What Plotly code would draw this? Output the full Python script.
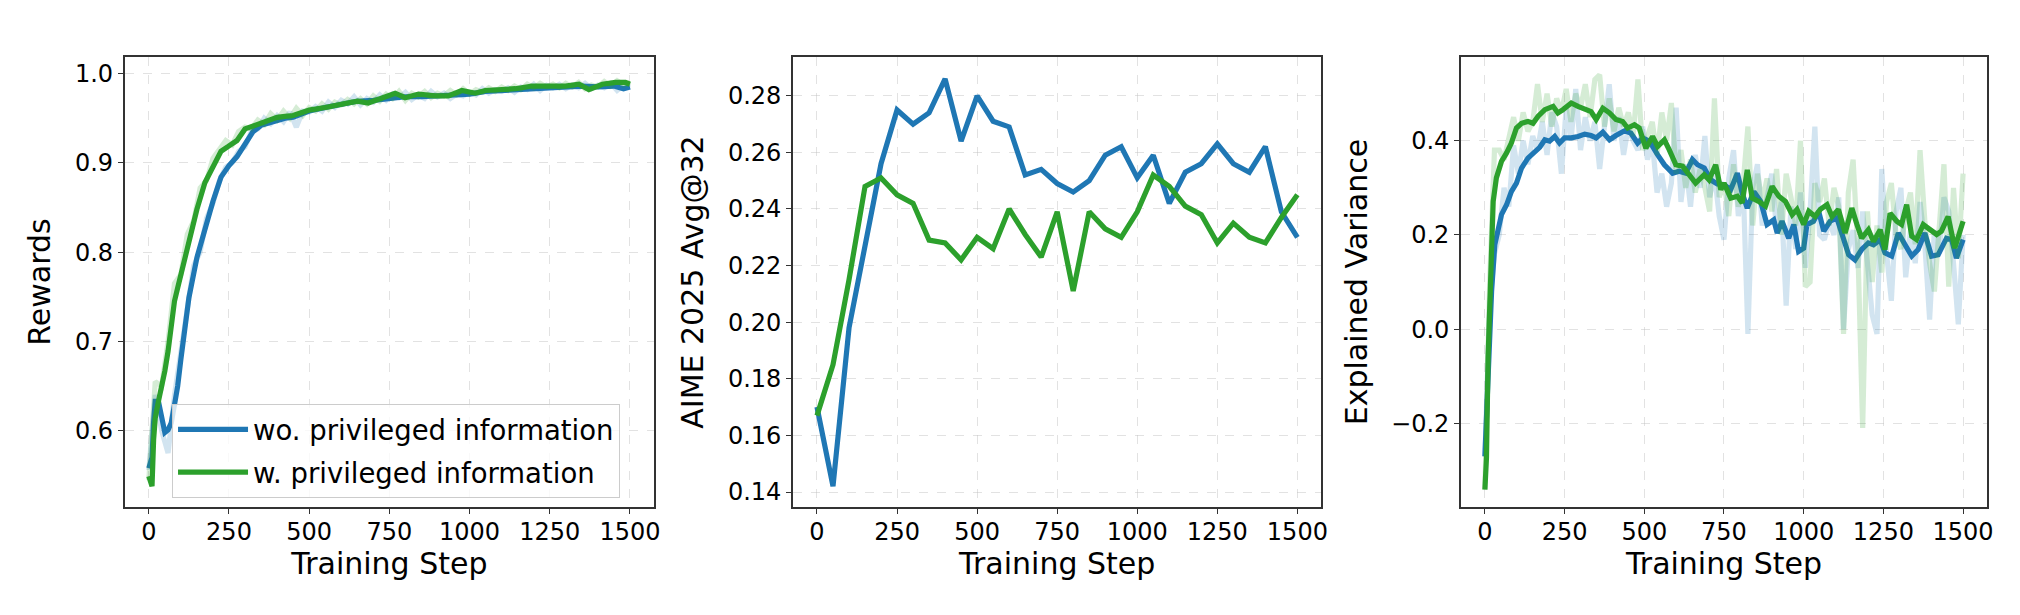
"""
Training curves: rewards, AIME 2025 Avg@32 and explained variance,
with and without privileged information.
"""

import plotly.graph_objects as go
from plotly.subplots import make_subplots

# ============================================================================
# DATA
# ============================================================================
LABEL_WO = "wo. privileged information"
LABEL_W = "w. privileged information"

# --- Panel 1: rewards -------------------------------------------------------
reward_raw_steps = list(range(0, 1501, 20))
reward_raw_wo = [
    0.556, 0.640, 0.600, 0.575, 0.640, 0.690, 0.735, 0.785, 0.800, 0.838,
    0.855, 0.880, 0.895, 0.900, 0.913, 0.918, 0.935, 0.938, 0.950, 0.944,
    0.953, 0.946, 0.957, 0.940, 0.958, 0.957, 0.963, 0.958, 0.968, 0.962,
    0.970, 0.966, 0.974, 0.965, 0.972, 0.968, 0.976, 0.970, 0.977, 0.973,
    0.979, 0.971, 0.976, 0.972, 0.980, 0.974, 0.978, 0.972, 0.977, 0.975,
    0.979, 0.976, 0.983, 0.978, 0.982, 0.980, 0.984, 0.979, 0.985, 0.982,
    0.988, 0.981, 0.987, 0.984, 0.988, 0.983, 0.987, 0.984, 0.989, 0.983,
    0.987, 0.984, 0.989, 0.981, 0.987, 0.984,
]
reward_raw_w = [
    0.545, 0.655, 0.650, 0.700, 0.765, 0.775, 0.820, 0.835, 0.872, 0.880,
    0.905, 0.915, 0.925, 0.920, 0.935, 0.940, 0.938, 0.948, 0.943, 0.955,
    0.948, 0.958, 0.950, 0.961, 0.953, 0.962, 0.958, 0.966, 0.960, 0.968,
    0.965, 0.971, 0.966, 0.972, 0.966, 0.975, 0.969, 0.977, 0.972, 0.980,
    0.970, 0.978, 0.974, 0.980, 0.973, 0.978, 0.975, 0.981, 0.976, 0.983,
    0.977, 0.982, 0.979, 0.984, 0.980, 0.985, 0.981, 0.986, 0.982, 0.988,
    0.984, 0.989, 0.985, 0.988, 0.984, 0.989, 0.985, 0.990, 0.983, 0.987,
    0.985, 0.991, 0.986, 0.992, 0.987, 0.990,
]

reward_smooth_steps_wo = [
    0, 10, 15, 20, 30, 40, 50, 60, 70, 80, 90, 100, 110, 125, 150, 175, 200,
    225, 250, 275, 300, 325, 350, 375, 400, 425, 450, 475, 500, 550, 600, 650,
    700, 750, 800, 850, 900, 950, 1000, 1050, 1100, 1150, 1200, 1250, 1300,
    1350, 1400, 1450, 1480, 1500,
]
reward_smooth_wo = [
    0.558, 0.570, 0.610, 0.633, 0.633, 0.614, 0.598, 0.601, 0.609, 0.629,
    0.650, 0.680, 0.711, 0.749, 0.794, 0.827, 0.857, 0.884, 0.897, 0.907,
    0.921, 0.935, 0.942, 0.945, 0.948, 0.950, 0.951, 0.955, 0.958, 0.962,
    0.966, 0.969, 0.970, 0.972, 0.974, 0.974, 0.975, 0.976, 0.977, 0.980,
    0.981, 0.982, 0.984, 0.985, 0.985, 0.986, 0.985, 0.986, 0.983, 0.985,
]
reward_smooth_steps_w = [
    0, 5, 10, 15, 20, 30, 40, 50, 60, 70, 80, 90, 100, 125, 150, 175, 200,
    225, 250, 275, 300, 325, 350, 375, 400, 425, 450, 475, 500, 550, 600, 650,
    684, 716, 768, 799, 841, 893, 934, 976, 1018, 1049, 1101, 1143, 1195,
    1247, 1299, 1341, 1372, 1414, 1455, 1486, 1500,
]
reward_smooth_w = [
    0.549, 0.540, 0.538, 0.590, 0.614, 0.633, 0.648, 0.667, 0.689, 0.719,
    0.745, 0.760, 0.775, 0.816, 0.848, 0.878, 0.896, 0.913, 0.919, 0.925,
    0.938, 0.941, 0.945, 0.948, 0.951, 0.952, 0.953, 0.956, 0.959, 0.962,
    0.966, 0.969, 0.967, 0.971, 0.978, 0.973, 0.977, 0.975, 0.975, 0.981,
    0.978, 0.981, 0.982, 0.983, 0.986, 0.986, 0.986, 0.988, 0.982, 0.988,
    0.990, 0.990, 0.988,
]

# --- Panel 2: AIME 2025 Avg@32 (evaluated every 50 steps) ------------------
aime_steps = [
    0, 50, 100, 150, 200, 250, 300, 350, 400, 450, 500, 550, 600, 650, 700,
    750, 800, 850, 900, 950, 1000, 1050, 1100, 1150, 1200, 1250, 1300, 1350,
    1400, 1450, 1500,
]
aime_wo = [
    0.170, 0.142, 0.198, 0.226, 0.256, 0.275, 0.270, 0.274, 0.286, 0.264,
    0.280, 0.271, 0.269, 0.252, 0.254, 0.249, 0.246, 0.250, 0.259, 0.262,
    0.251, 0.259, 0.242, 0.253, 0.256, 0.263, 0.256, 0.253, 0.262, 0.239,
    0.230,
]
aime_w = [
    0.167, 0.185, 0.215, 0.248, 0.251, 0.245, 0.242, 0.229, 0.228, 0.222,
    0.230, 0.226, 0.240, 0.231, 0.223, 0.239, 0.211, 0.239, 0.233, 0.230,
    0.239, 0.252, 0.248, 0.241, 0.238, 0.228, 0.235, 0.230, 0.228, 0.237,
    0.245,
]

# --- Panel 3: explained variance ------------------------------------------
ev_raw_steps = list(range(0, 1501, 15))
ev_raw_wo = [
    -0.27, 0.05, 0.16, 0.20, 0.30, 0.26, 0.39, 0.33, 0.40, 0.35,
    0.41, 0.38, 0.44, 0.37, 0.46, 0.43, 0.33, 0.47, 0.40, 0.51,
    0.38, 0.45, 0.40, 0.44, 0.34, 0.42, 0.52, 0.40, 0.45, 0.37,
    0.43, 0.40, 0.38, 0.43, 0.36, 0.40, 0.29, 0.33, 0.26, 0.31,
    0.47, 0.27, 0.35, 0.26, 0.37, 0.30, 0.41, 0.28, 0.33, 0.24,
    0.19, 0.32, 0.38, 0.24, 0.31, -0.01, 0.30, 0.35, 0.22, 0.28,
    0.33, 0.21, 0.27, 0.05, 0.26, 0.17, 0.29, 0.13, 0.25, 0.43,
    0.20, 0.19, 0.23, 0.20, 0.28, 0.00, 0.17, 0.21, 0.13, 0.25,
    0.14, 0.03, -0.01, 0.34, 0.16, 0.06, 0.25, 0.30, 0.11, 0.21,
    0.14, 0.27, 0.18, 0.02, 0.21, 0.16, 0.28, 0.25, 0.14, 0.01,
    0.20,
]
ev_raw_w = [
    -0.34, 0.10, 0.38, 0.38, 0.36, 0.40, 0.45, 0.40, 0.46, 0.42,
    0.44, 0.52, 0.44, 0.50, 0.43, 0.49, 0.46, 0.51, 0.44, 0.50,
    0.47, 0.52, 0.45, 0.53, 0.54, 0.43, 0.49, 0.42, 0.47, 0.43,
    0.46, 0.41, 0.53, 0.38, 0.41, 0.44, 0.37, 0.46, 0.40, 0.48,
    0.33, 0.38, 0.30, 0.36, 0.29, 0.34, 0.30, 0.25, 0.49, 0.28,
    0.31, 0.24, 0.35, 0.26, 0.31, 0.43, 0.22, 0.33, 0.27, 0.32,
    0.25, 0.34, 0.20, 0.33, 0.28, 0.22, 0.40, 0.09, 0.10, 0.31,
    0.27, 0.32, 0.22, 0.30, 0.26, -0.01, 0.29, 0.36, 0.17, -0.21,
    0.25, 0.10, 0.22, 0.12, 0.27, 0.31, 0.20, 0.17, 0.25, 0.29,
    0.18, 0.38, 0.23, 0.14, 0.08, 0.20, 0.35, 0.09, 0.30, 0.15,
    0.33,
]

ev_smooth_steps_wo = [
    0, 16, 21, 31, 42, 52, 68, 83, 99, 115, 135, 156, 172, 188, 203, 219,
    234, 250, 271, 292, 313, 333, 349, 370, 391, 411, 438, 458, 479, 495,
    516, 542, 563, 589, 609, 630, 651, 667, 688, 708, 729, 750, 771, 792,
    807, 823, 844, 865, 885, 906, 917, 932, 953, 969, 984, 1000, 1010, 1031,
    1047, 1063, 1083, 1104, 1125, 1141, 1161, 1182, 1203, 1219, 1240, 1255,
    1276, 1297, 1318, 1339, 1359, 1380, 1401, 1422, 1448, 1464, 1479, 1500,
]
ev_smooth_wo = [
    -0.270, 0.009, 0.080, 0.179, 0.215, 0.243, 0.264, 0.292, 0.310, 0.342,
    0.363, 0.377, 0.386, 0.402, 0.399, 0.409, 0.395, 0.406, 0.406, 0.409,
    0.414, 0.411, 0.406, 0.418, 0.402, 0.411, 0.421, 0.416, 0.395, 0.406,
    0.399, 0.370, 0.349, 0.331, 0.335, 0.331, 0.360, 0.349, 0.342, 0.317,
    0.308, 0.307, 0.296, 0.331, 0.289, 0.257, 0.292, 0.271, 0.222, 0.232,
    0.204, 0.229, 0.193, 0.222, 0.165, 0.172, 0.222, 0.229, 0.250, 0.208,
    0.229, 0.236, 0.190, 0.158, 0.147, 0.169, 0.183, 0.179, 0.190, 0.162,
    0.155, 0.204, 0.179, 0.155, 0.169, 0.204, 0.155, 0.158, 0.193, 0.190,
    0.151, 0.190,
]
ev_smooth_steps_w = [
    0, 5, 10, 16, 21, 26, 36, 52, 68, 83, 99, 115, 135, 151, 167, 188, 214,
    229, 245, 271, 292, 313, 333, 349, 370, 391, 411, 432, 448, 469, 484,
    505, 526, 542, 563, 578, 599, 620, 641, 661, 688, 703, 724, 740, 750,
    771, 792, 807, 823, 839, 859, 880, 901, 922, 943, 964, 979, 1000, 1016,
    1036, 1052, 1073, 1089, 1109, 1130, 1151, 1167, 1182, 1203, 1219, 1240,
    1255, 1271, 1292, 1307, 1323, 1339, 1354, 1375, 1396, 1417, 1432, 1453,
    1474, 1500,
]
ev_smooth_w = [
    -0.341, -0.273, -0.061, 0.094, 0.208, 0.271, 0.321, 0.356, 0.374, 0.395,
    0.427, 0.437, 0.441, 0.437, 0.452, 0.466, 0.473, 0.459, 0.466, 0.480,
    0.473, 0.466, 0.462, 0.445, 0.469, 0.459, 0.445, 0.441, 0.427, 0.434,
    0.427, 0.384, 0.409, 0.388, 0.402, 0.381, 0.349, 0.346, 0.328, 0.310,
    0.328, 0.317, 0.349, 0.296, 0.310, 0.278, 0.282, 0.268, 0.338, 0.278,
    0.271, 0.261, 0.303, 0.282, 0.271, 0.243, 0.254, 0.222, 0.250, 0.239,
    0.254, 0.264, 0.239, 0.254, 0.204, 0.257, 0.222, 0.193, 0.211, 0.186,
    0.211, 0.169, 0.246, 0.229, 0.222, 0.264, 0.197, 0.190, 0.222, 0.211,
    0.201, 0.208, 0.239, 0.172, 0.229,
]

# ============================================================================
# STYLE
# ============================================================================
BLUE = '#1f77b4'
GREEN = '#2ca02c'
BLUE_FADE = 'rgba(31,119,180,0.2)'
GREEN_FADE = 'rgba(44,160,44,0.2)'
LINE_W = 5.2
FONT = 'DejaVu Sans'

fig = make_subplots(rows=1, cols=3)

# 1. Rewards (raw faded + smoothed)
fig.add_trace(go.Scatter(x=reward_raw_steps, y=reward_raw_wo, mode='lines',
                         line=dict(color=BLUE_FADE, width=LINE_W), showlegend=False), row=1, col=1)
fig.add_trace(go.Scatter(x=reward_smooth_steps_wo, y=reward_smooth_wo, mode='lines', name=LABEL_WO,
                         legendgroup='wo', line=dict(color=BLUE, width=LINE_W)), row=1, col=1)
fig.add_trace(go.Scatter(x=reward_raw_steps, y=reward_raw_w, mode='lines',
                         line=dict(color=GREEN_FADE, width=LINE_W), showlegend=False), row=1, col=1)
fig.add_trace(go.Scatter(x=reward_smooth_steps_w, y=reward_smooth_w, mode='lines', name=LABEL_W,
                         legendgroup='w', line=dict(color=GREEN, width=LINE_W)), row=1, col=1)

# 2. AIME 2025
fig.add_trace(go.Scatter(x=aime_steps, y=aime_wo, mode='lines', name=LABEL_WO,
                         line=dict(color=BLUE, width=LINE_W), showlegend=False), row=1, col=2)
fig.add_trace(go.Scatter(x=aime_steps, y=aime_w, mode='lines', name=LABEL_W,
                         line=dict(color=GREEN, width=LINE_W), showlegend=False), row=1, col=2)

# 3. Explained variance
fig.add_trace(go.Scatter(x=ev_raw_steps, y=ev_raw_wo, mode='lines',
                         line=dict(color=BLUE_FADE, width=LINE_W), showlegend=False), row=1, col=3)
fig.add_trace(go.Scatter(x=ev_smooth_steps_wo, y=ev_smooth_wo, mode='lines', name=LABEL_WO,
                         line=dict(color=BLUE, width=LINE_W), showlegend=False), row=1, col=3)
fig.add_trace(go.Scatter(x=ev_raw_steps, y=ev_raw_w, mode='lines',
                         line=dict(color=GREEN_FADE, width=LINE_W), showlegend=False), row=1, col=3)
fig.add_trace(go.Scatter(x=ev_smooth_steps_w, y=ev_smooth_w, mode='lines', name=LABEL_W,
                         line=dict(color=GREEN, width=LINE_W), showlegend=False), row=1, col=3)

# Axes
axis_style = dict(
    showline=True, mirror=True, linecolor='#333333', linewidth=1.6,
    ticks='outside', ticklen=5, tickwidth=1.3, tickcolor='#333333',
    showgrid=True, gridcolor='rgba(190,190,190,0.45)', griddash='dash', gridwidth=1,
    zeroline=False, automargin=False,
    tickfont=dict(family=FONT, size=24, color='black'),
    title_font=dict(family=FONT, size=30, color='black'),
)
x_domains = [[0.0578, 0.3198], [0.3886, 0.6502], [0.7193, 0.9797]]
y_ranges = [[0.5146, 1.0185], [0.1347, 0.2937], [-0.3777, 0.5777]]
y_titles = ["Rewards", "AIME 2025 Avg@32", "Explained Variance"]
y_ticks = [dict(tickvals=[0.6, 0.7, 0.8, 0.9, 1.0], tickformat='.1f'),
           dict(tickvals=[0.14, 0.16, 0.18, 0.20, 0.22, 0.24, 0.26, 0.28], tickformat='.2f'),
           dict(tickvals=[-0.2, 0.0, 0.2, 0.4], tickformat='.1f')]

for i in range(3):
    fig.update_xaxes(axis_style, domain=x_domains[i], range=[-75, 1575],
                     tickvals=[0, 250, 500, 750, 1000, 1250, 1500], ticklabelstandoff=-3,
                     title_text="Training Step", title_standoff=0, row=1, col=i + 1)
    fig.update_yaxes(axis_style, domain=[0.1886, 0.9203], range=y_ranges[i],
                     title_text=y_titles[i], title_standoff=15, row=1, col=i + 1, **y_ticks[i])

fig.update_layout(
    width=2020,
    height=615,
    margin=dict(l=0, r=0, t=0, b=0),
    paper_bgcolor='white',
    plot_bgcolor='white',
    font=dict(family=FONT, color='black'),
    showlegend=True,
    legend=dict(
        x=0.0812, y=0.3560, xanchor='left', yanchor='top',
        font=dict(family=FONT, size=27.5, color='black'),
        bgcolor='rgba(255,255,255,0.8)', bordercolor='#cccccc', borderwidth=1,
        itemwidth=70, tracegroupgap=4,
    ),
)

fig.write_html("out.html")
